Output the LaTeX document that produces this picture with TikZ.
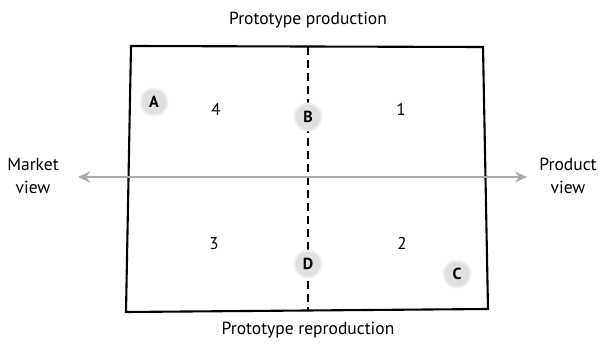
\documentclass[tikz,border=0pt]{standalone}
\usepackage{fontspec}
\setmainfont{PT Sans}
\usetikzlibrary{arrows.meta}
\begin{document}
\begin{tikzpicture}[x=1pt,y=-1pt,
  frame/.style={line width=2.1pt, line join=miter},
  divider/.style={line width=2.1pt, dash pattern=on 8pt off 5pt},
  axis/.style={line width=1.8pt, color=black!33,
    {Stealth[length=12pt,width=11pt,inset=4pt]}-{Stealth[length=12pt,width=11pt,inset=4pt]}},
  marker/.style={circle, inner sep=0pt, minimum size=25pt, fill=black!12,
    font=\bfseries\fontsize{16}{18}\selectfont},
  halo/.style={circle, fill=black!6, minimum size=29pt, inner sep=0pt},
  quadnum/.style={font=\fontsize{17}{20}\selectfont},
  caption/.style={font=\fontsize{17.5}{23}\selectfont, align=center}]
\useasboundingbox (0,0) rectangle (600,350);

% corners of the slightly skewed frame
\coordinate (tl) at (131,46);
\coordinate (tr) at (483,47);
\coordinate (br) at (488,309);
\coordinate (bl) at (126,312);
\coordinate (dtop) at (308,47);
\coordinate (dbot) at (308,309.5);

\draw[frame] (tl) -- (tr) -- (br) -- (bl) -- cycle;
\draw[divider] (dtop) -- (dbot);

% horizontal axis
\coordinate (left) at (78,177);
\coordinate (right) at (527,177);
\draw[axis] (left) -- (right);

% captions
\node[caption] (top) at (308,20) {Prototype production};
\node[caption] (bottom) at (308,330) {Prototype reproduction};
\node[caption] (market) at (33,176) {Market\\view};
\node[caption] (product) at (568,176) {Product\\view};

% quadrant numbers
\node[quadnum] (q4) at (216,109) {4};
\node[quadnum] (q1) at (401,109) {1};
\node[quadnum] (q3) at (214,244) {3};
\node[quadnum] (q2) at (402,243) {2};

% soft halos behind the markers
\foreach \p in {(154,102), (308,117), (457,274), (308,264)}{
  \node[halo] at \p {};
}
\node[marker] (mA) at (154,102) {A};
\node[marker] (mB) at (308,117) {B};
\node[marker] (mC) at (457,274) {C};
\node[marker] (mD) at (308,264) {D};
\end{tikzpicture}
\end{document}
